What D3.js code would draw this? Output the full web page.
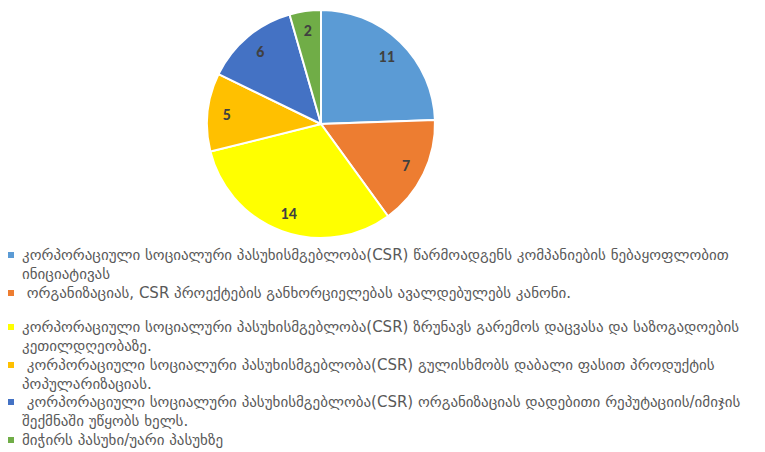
<!DOCTYPE html>
<html>
<head>
<meta charset="utf-8">
<script src="https://cdn.jsdelivr.net/npm/d3@7"></script>
<style>
  body { margin: 0; background: #fff; }
  svg { display: block; }
</style>
</head>
<body>
<svg id="chart" width="765" height="452"></svg>
<script>
// slice values, clockwise from 12 o'clock
const values = [11, 7, 14, 5, 6, 2];
const colors = ['#5B9BD5', '#ED7D31', '#FFFF00', '#FFC000', '#4472C4', '#70AD47'];
// legend entries, already broken into lines like the original
const labels = [
  ['კორპორაციული სოციალური პასუხისმგებლობა(CSR) წარმოადგენს კომპანიების ნებაყოფლობით', 'ინიციატივას'],
  [' ორგანიზაციას, CSR პროექტების განხორციელებას ავალდებულებს კანონი.'],
  ['კორპორაციული სოციალური პასუხისმგებლობა(CSR) ზრუნავს გარემოს დაცვასა და საზოგადოების', 'კეთილდღეობაზე.'],
  [' კორპორაციული სოციალური პასუხისმგებლობა(CSR) გულისხმობს დაბალი ფასით პროდუქტის', 'პოპულარიზაციას.'],
  [' კორპორაციული სოციალური პასუხისმგებლობა(CSR) ორგანიზაციას დადებითი რეპუტაციის/იმიჯის', 'შექმნაში უწყობს ხელს.'],
  ['მიჭირს პასუხი/უარი პასუხზე']
];
// top of each legend entry
const legendY = [260, 298, 332, 370, 407, 445];

let svg = d3.select('#chart');
let cx = 321, cy = 124, r = 114;

let pie = d3.pie().sort(null).value(d => d);
let arc = d3.arc().innerRadius(0).outerRadius(r);
let labelArc = d3.arc().innerRadius(r * 0.83).outerRadius(r * 0.83);

let g = svg.append('g').attr('transform', `translate(${cx},${cy})`);

g.selectAll('path')
  .data(pie(values))
  .enter()
  .append('path')
  .attr('d', arc)
  .attr('fill', (d, i) => colors[i])
  .attr('stroke', '#fff')
  .attr('stroke-width', 2);

g.selectAll('text')
  .data(pie(values))
  .enter()
  .append('text')
  .attr('transform', d => `translate(${labelArc.centroid(d)})`)
  .attr('text-anchor', 'middle')
  .attr('dy', '0.35em')
  .style('font-family', 'Calibri, Carlito, "Liberation Sans", Arial, sans-serif')
  .style('font-weight', 'bold')
  .style('font-size', '16px')
  .style('fill', '#404040')
  .text(d => d.data);

let leg = svg.append('g');
labels.forEach((lines, i) => {
  leg.append('rect')
    .attr('x', 8)
    .attr('y', legendY[i] - 8)
    .attr('width', 6)
    .attr('height', 6)
    .attr('fill', colors[i]);
  let t = leg.append('text')
    .attr('x', 22)
    .attr('y', legendY[i])
    .style('font-family', '"DejaVu Sans", sans-serif')
    .style('font-size', '15px')
    .style('fill', '#595959')
    .attr('xml:space', 'preserve');
  lines.forEach((ln, j) => {
    t.append('tspan')
      .attr('x', 22)
      .attr('dy', j == 0 ? 0 : 19)
      .text(ln);
  });
});
</script>
</body>
</html>
